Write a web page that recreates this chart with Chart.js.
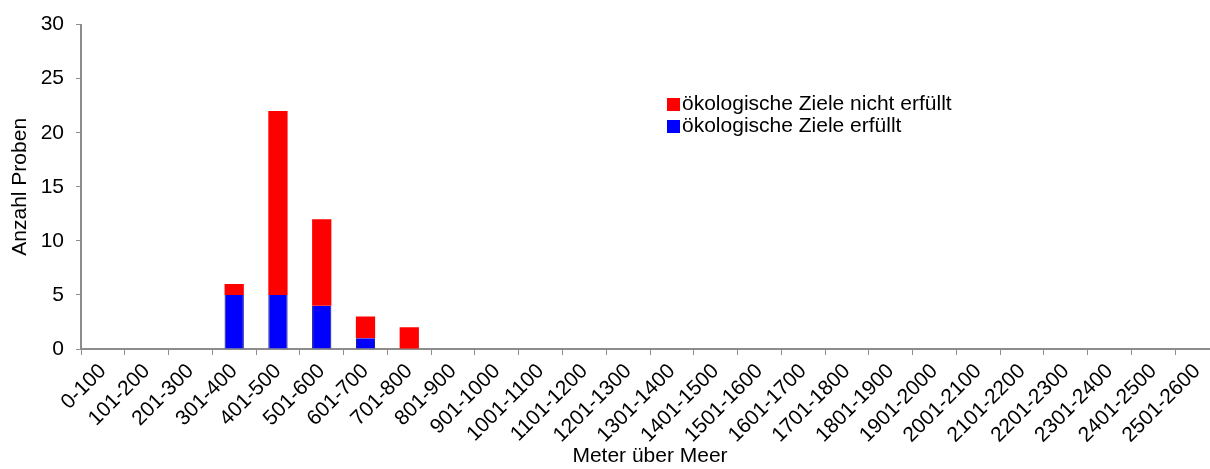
<!DOCTYPE html>
<html>
<head>
<meta charset="utf-8">
<script src="https://cdn.jsdelivr.net/npm/chart.js@4"></script>
<style>
  html, body { margin: 0; padding: 0; background: #fff; overflow: hidden; }
  #wrap { position: relative; width: 1210px; height: 469px; overflow: hidden; }
  #legend { position: absolute; left: 667px; top: 92px; font: 21px "Liberation Sans", Arial, sans-serif; color: #000; }
  #legend div { height: 22px; line-height: 22px; white-space: nowrap; }
  #legend span { display: inline-block; width: 13px; height: 13px; margin-right: 2px; vertical-align: -1px; }
</style>
</head>
<body>
<div id="wrap">
  <canvas id="chart" width="1219" height="469"></canvas>
  <div id="legend"></div>
</div>
<script>
// Höhenstufen (m ü. M.)
const categories = ['0-100', '101-200', '201-300', '301-400', '401-500', '501-600', '601-700', '701-800',
    '801-900', '901-1000', '1001-1100', '1101-1200', '1201-1300', '1301-1400', '1401-1500', '1501-1600',
    '1601-1700', '1701-1800', '1801-1900', '1901-2000', '2001-2100', '2101-2200', '2201-2300', '2301-2400',
    '2401-2500', '2501-2600'];
const erfuellt      = [0, 0, 0, 5, 5, 4, 1, 0, 0, 0, 0, 0, 0, 0, 0, 0, 0, 0, 0, 0, 0, 0, 0, 0, 0, 0];
const nichtErfuellt = [0, 0, 0, 1, 17, 8, 2, 2, 0, 0, 0, 0, 0, 0, 0, 0, 0, 0, 0, 0, 0, 0, 0, 0, 0, 0];
const yTicks = [0, 5, 10, 15, 20, 25, 30];

const font = { family: '"Liberation Sans", Arial, sans-serif', size: 21 };
const axisGray = '#8c8c8c';

// legend drawn as html, red entry on top
const legendItems = [
    { label: 'ökologische Ziele nicht erfüllt', color: '#ff0000' },
    { label: 'ökologische Ziele erfüllt', color: '#0000ff' }
];
document.getElementById('legend').innerHTML = legendItems
    .map(it => '<div><span style="background:' + it.color + '"></span>' + it.label + '</div>')
    .join('');

new Chart(document.getElementById('chart').getContext('2d'), {
    type: 'bar',
    data: {
        labels: categories,
        datasets: [{
            label: 'ökologische Ziele erfüllt',
            data: erfuellt,
            backgroundColor: '#0000ff',
            borderColor: '#00007a',
            borderWidth: { left: 1, right: 1, top: 0, bottom: 0 },
            barPercentage: 0.44,
            categoryPercentage: 1
        }, {
            label: 'ökologische Ziele nicht erfüllt',
            data: nichtErfuellt,
            backgroundColor: '#ff0000',
            borderWidth: 0,
            barPercentage: 0.44,
            categoryPercentage: 1
        }]
    },
    options: {
        responsive: false,
        animation: false,
        layout: { padding: { top: 24, right: 0, left: 0, bottom: 0 } },
        plugins: {
            legend: { display: false },
            tooltip: { enabled: false }
        },
        scales: {
            x: {
                stacked: true,
                grid: { display: true, drawOnChartArea: false, drawTicks: true, tickLength: 6, color: axisGray, offset: true },
                border: { color: axisGray, width: 2 },
                ticks: { font: font, color: '#000', maxRotation: 45, minRotation: 45, autoSkip: false, padding: 4 },
                title: { display: true, text: 'Meter über Meer', font: font, color: '#000', padding: { top: 0, bottom: 0 } },
                afterFit: function(scale) { scale.height = 120; }
            },
            y: {
                stacked: true,
                min: 0,
                max: 30,
                afterBuildTicks: function(scale) { scale.ticks = yTicks.map(v => ({ value: v })); },
                grid: { display: true, drawOnChartArea: false, drawTicks: true, tickLength: 5, color: axisGray },
                border: { color: axisGray, width: 2 },
                ticks: { font: font, color: '#000', padding: 12 },
                title: { display: true, text: 'Anzahl Proben', font: font, color: '#000', padding: { top: 8, bottom: 0 } },
                afterFit: function(scale) { scale.width = 81; }
            }
        }
    }
});
</script>
</body>
</html>
